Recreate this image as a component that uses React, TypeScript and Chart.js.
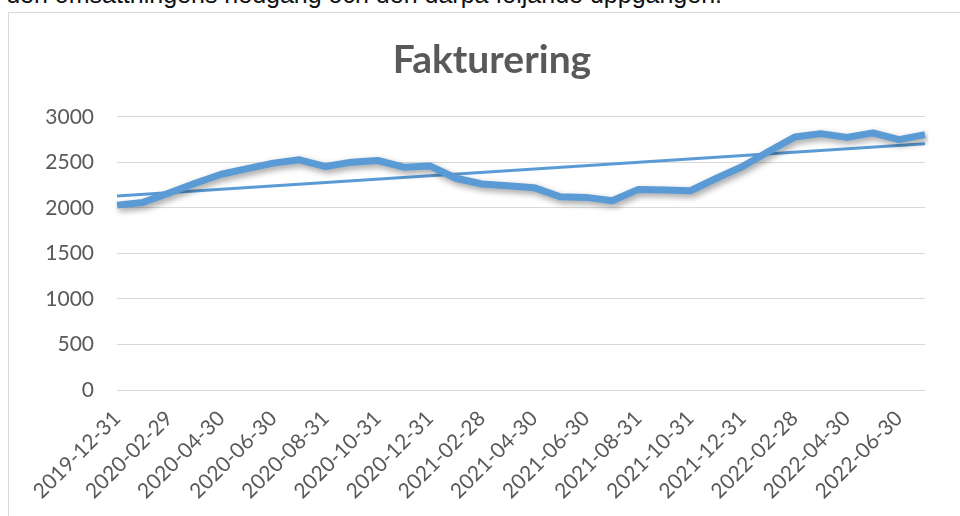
import React, { useEffect, useRef } from "react";
import { Chart, registerables } from "chart.js";

Chart.register(...registerables);

const categories = [
  "2019-12-31", "2020-01-31", "2020-02-29", "2020-03-31", "2020-04-30", "2020-05-31",
  "2020-06-30", "2020-07-31", "2020-08-31", "2020-09-30", "2020-10-31", "2020-11-30",
  "2020-12-31", "2021-01-31", "2021-02-28", "2021-03-31", "2021-04-30", "2021-05-31",
  "2021-06-30", "2021-07-31", "2021-08-31", "2021-09-30", "2021-10-31", "2021-11-30",
  "2021-12-31", "2022-01-31", "2022-02-28", "2022-03-31", "2022-04-30", "2022-05-31",
  "2022-06-30", "2022-07-31",
];

const shownTicks = [
  "2019-12-31", "2020-02-29", "2020-04-30", "2020-06-30", "2020-08-31", "2020-10-31",
  "2020-12-31", "2021-02-28", "2021-04-30", "2021-06-30", "2021-08-31", "2021-10-31",
  "2021-12-31", "2022-02-28", "2022-04-30", "2022-06-30",
];

const fakturering = [
  2030, 2060, 2163, 2270, 2369, 2431, 2491, 2528, 2454, 2502, 2520, 2447,
  2461, 2325, 2262, 2244, 2222, 2122, 2115, 2078, 2203, 2195, 2188, 2325,
  2454, 2620, 2778, 2815, 2774, 2823, 2749, 2804,
];

// Linear trendline endpoints
const trendStart = 2130;
const trendEnd = 2705;

const yTicks = { min: 0, max: 3000, step: 500 };

const BLUE = "#5B9BD5";
const GREY = "#595959";

const shadowPlugin = {
  id: "lineShadow",
  beforeDatasetDraw(chart: any, args: any) {
    if (args.index !== 0) return;
    const ctx = chart.ctx;
    ctx.save();
    ctx.shadowColor = "rgba(0,0,0,0.38)";
    ctx.shadowBlur = 6;
    ctx.shadowOffsetX = 2;
    ctx.shadowOffsetY = 3;
  },
  afterDatasetDraw(chart: any, args: any) {
    if (args.index !== 0) return;
    chart.ctx.restore();
  },
};

export default function App() {
  const ref = useRef<HTMLCanvasElement>(null);

  useEffect(() => {
    const trendData = categories.map((_, i) =>
      i === 0 ? trendStart : i === categories.length - 1 ? trendEnd : null
    );
    const chart = new Chart(ref.current as HTMLCanvasElement, {
      type: "line",
      data: {
        labels: categories,
        datasets: [
          {
            label: "Fakturering",
            data: fakturering,
            borderColor: BLUE,
            borderWidth: 7,
            pointRadius: 0,
            tension: 0,
            borderJoinStyle: "round",
            borderCapStyle: "butt",
            fill: false,
          },
          {
            label: "Linjär (Fakturering)",
            data: trendData,
            borderColor: BLUE,
            borderWidth: 3,
            pointRadius: 0,
            tension: 0,
            spanGaps: true,
            fill: false,
          },
        ],
      },
      options: {
        responsive: false,
        animation: false,
        layout: { padding: { left: 0, right: 0, top: 0, bottom: 0 } },
        plugins: {
          legend: { display: false },
          tooltip: { enabled: false },
          title: {
            display: true,
            text: "Fakturering",
            color: GREY,
            font: { family: "Lato", size: 39, weight: "bold" },
            padding: { top: 25, bottom: 33 },
          },
        },
        scales: {
          x: {
            grid: { display: false, drawTicks: false },
            border: { display: false },
            ticks: {
              autoSkip: false,
              maxRotation: 45,
              minRotation: 45,
              color: GREY,
              font: { family: "Lato", size: 21 },
              padding: 16,
              callback: (_v: any, i: number) =>
                shownTicks.includes(categories[i]) ? categories[i] : "",
            },
            afterFit: (s: any) => {
              s.height = 126;
            },
          },
          y: {
            min: yTicks.min,
            max: yTicks.max,
            ticks: {
              stepSize: yTicks.step,
              color: GREY,
              font: { family: "Lato", size: 21 },
              padding: 23,
              callback: (v: any) => String(v),
            },
            grid: { color: "#d9d9d9", lineWidth: 1, drawTicks: false },
            border: { display: false },
            afterFit: (s: any) => {
              s.width = 109;
            },
          },
          spacer: {
            type: "linear",
            position: "right",
            grid: { display: false, drawTicks: false },
            border: { display: false },
            ticks: { display: false },
            afterFit: (s: any) => {
              s.width = 51;
            },
          },
        },
      },
      plugins: [shadowPlugin],
    } as any);
    return () => chart.destroy();
  }, []);

  return (
    <div
      style={{
        position: "fixed",
        left: 0,
        top: 0,
        width: 960,
        height: 516,
        overflow: "hidden",
        background: "#ffffff",
      }}
    >
      <div
        style={{
          position: "absolute",
          right: 238,
          top: -18,
          whiteSpace: "nowrap",
          fontFamily: "'Liberation Sans', Arial, sans-serif",
          fontSize: 25,
          lineHeight: "25px",
          color: "#111111",
        }}
      >
        den omsättningens nedgång och den därpå följande uppgången.
      </div>
      <div
        style={{
          position: "absolute",
          left: 8,
          top: 12,
          width: 1000,
          height: 600,
          borderLeft: "1px solid #d9d9d9",
          borderTop: "1px solid #d9d9d9",
        }}
      />
      <div style={{ position: "absolute", left: 8, top: 12, width: 968, height: 504 }}>
        <canvas ref={ref} width={968} height={504} />
      </div>
    </div>
  );
}
